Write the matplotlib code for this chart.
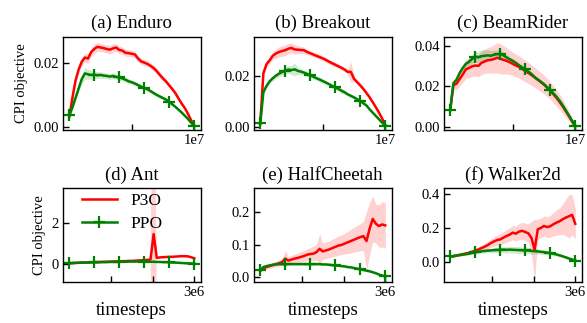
import numpy as np
import matplotlib
matplotlib.use("Agg")
import matplotlib.pyplot as plt

plt.rcParams['font.family'] = ['Liberation Serif', 'DejaVu Serif']
plt.rcParams['mathtext.fontset'] = 'stix'

titles = ["(a) Enduro", "(b) Breakout", "(c) BeamRider",
          "(d) Ant", "(e) HalfCheetah", "(f) Walker2d"]

# 41 evaluation points per run (Atari: 0..1e7, MuJoCo: 0..3e6)
atari_steps = np.linspace(0, 1e7, 41)
mujoco_steps = np.linspace(0, 3e6, 41)

# ---- Enduro
enduro_p3o = [0.0030, 0.0090, 0.0145, 0.0180, 0.0205, 0.0218, 0.0215, 0.0235, 0.0245, 0.0252,
              0.0250, 0.0248, 0.0245, 0.0243, 0.0247, 0.0250, 0.0242, 0.0240, 0.0233, 0.0232,
              0.0230, 0.0228, 0.0215, 0.0206, 0.0202, 0.0198, 0.0192, 0.0185, 0.0175, 0.0163,
              0.0152, 0.0142, 0.0130, 0.0118, 0.0105, 0.0088, 0.0072, 0.0058, 0.0040, 0.0020, 0.0002]
enduro_p3o_std = [0.0005, 0.0008, 0.0010, 0.0012, 0.0013, 0.0014, 0.0015, 0.0015, 0.0015, 0.0014,
                  0.0013, 0.0012, 0.0013, 0.0014, 0.0013, 0.0012, 0.0012, 0.0011, 0.0011, 0.0011,
                  0.0010, 0.0010, 0.0010, 0.0010, 0.0010, 0.0009, 0.0009, 0.0009, 0.0009, 0.0008,
                  0.0008, 0.0008, 0.0007, 0.0007, 0.0007, 0.0006, 0.0006, 0.0005, 0.0004, 0.0003, 0.0002]
enduro_ppo = [0.0035, 0.0060, 0.0090, 0.0120, 0.0150, 0.0168, 0.0165, 0.0163, 0.0164, 0.0162,
              0.0163, 0.0161, 0.0160, 0.0158, 0.0160, 0.0157, 0.0155, 0.0152, 0.0148, 0.0143,
              0.0140, 0.0136, 0.0131, 0.0126, 0.0122, 0.0118, 0.0112, 0.0106, 0.0100, 0.0095,
              0.0090, 0.0085, 0.0078, 0.0070, 0.0062, 0.0053, 0.0044, 0.0034, 0.0024, 0.0012, 0.0002]
enduro_ppo_std = [0.0004, 0.0006, 0.0008, 0.0010, 0.0014, 0.0018, 0.0016, 0.0014, 0.0012, 0.0011,
                  0.0010, 0.0010, 0.0009, 0.0009, 0.0009, 0.0008, 0.0008, 0.0008, 0.0008, 0.0008,
                  0.0007, 0.0007, 0.0007, 0.0007, 0.0007, 0.0006, 0.0006, 0.0006, 0.0006, 0.0006,
                  0.0005, 0.0005, 0.0005, 0.0005, 0.0004, 0.0004, 0.0004, 0.0003, 0.0003, 0.0002, 0.0002]

# ---- Breakout
breakout_p3o = [0.0010, 0.0210, 0.0245, 0.0260, 0.0278, 0.0287, 0.0293, 0.0297, 0.0300, 0.0306,
                0.0309, 0.0303, 0.0302, 0.0301, 0.0300, 0.0293, 0.0288, 0.0283, 0.0278, 0.0273,
                0.0268, 0.0262, 0.0255, 0.0249, 0.0243, 0.0237, 0.0231, 0.0224, 0.0215, 0.0215,
                0.0188, 0.0175, 0.0162, 0.0148, 0.0132, 0.0115, 0.0096, 0.0076, 0.0055, 0.0032, 0.0008]
breakout_p3o_std = [0.0005, 0.0012, 0.0013, 0.0014, 0.0015, 0.0018, 0.0020, 0.0020, 0.0022, 0.0020,
                    0.0020, 0.0018, 0.0016, 0.0014, 0.0012, 0.0011, 0.0010, 0.0010, 0.0010, 0.0010,
                    0.0009, 0.0009, 0.0009, 0.0009, 0.0009, 0.0009, 0.0008, 0.0008, 0.0010, 0.0040,
                    0.0010, 0.0008, 0.0008, 0.0008, 0.0007, 0.0007, 0.0006, 0.0006, 0.0005, 0.0004, 0.0003]
breakout_ppo = [0.0013, 0.0135, 0.0160, 0.0178, 0.0190, 0.0200, 0.0208, 0.0214, 0.0220, 0.0224,
                0.0222, 0.0225, 0.0219, 0.0216, 0.0212, 0.0207, 0.0202, 0.0196, 0.0190, 0.0185,
                0.0179, 0.0173, 0.0167, 0.0160, 0.0154, 0.0148, 0.0141, 0.0135, 0.0127, 0.0121,
                0.0115, 0.0108, 0.0101, 0.0092, 0.0083, 0.0068, 0.0055, 0.0042, 0.0029, 0.0016, 0.0004]
breakout_ppo_std = [0.0005, 0.0008, 0.0009, 0.0010, 0.0010, 0.0011, 0.0012, 0.0012, 0.0013, 0.0015,
                    0.0018, 0.0025, 0.0014, 0.0012, 0.0011, 0.0010, 0.0010, 0.0009, 0.0009, 0.0009,
                    0.0008, 0.0008, 0.0008, 0.0008, 0.0008, 0.0008, 0.0012, 0.0007, 0.0007, 0.0007,
                    0.0007, 0.0006, 0.0006, 0.0006, 0.0006, 0.0005, 0.0005, 0.0004, 0.0004, 0.0003, 0.0003]

# ---- BeamRider
beamrider_p3o = [0.0085, 0.0205, 0.0212, 0.0235, 0.0258, 0.0283, 0.0290, 0.0298, 0.0302, 0.0300,
                 0.0315, 0.0322, 0.0328, 0.0330, 0.0334, 0.0340, 0.0335, 0.0330, 0.0325, 0.0318,
                 0.0310, 0.0302, 0.0295, 0.0285, 0.0275, 0.0265, 0.0255, 0.0243, 0.0232, 0.0220,
                 0.0208, 0.0193, 0.0178, 0.0160, 0.0142, 0.0122, 0.0100, 0.0076, 0.0052, 0.0027, 0.0003]
beamrider_p3o_std = [0.0010, 0.0025, 0.0030, 0.0035, 0.0040, 0.0045, 0.0048, 0.0050, 0.0052, 0.0055,
                     0.0058, 0.0060, 0.0062, 0.0065, 0.0070, 0.0075, 0.0075, 0.0070, 0.0065, 0.0060,
                     0.0058, 0.0056, 0.0055, 0.0054, 0.0053, 0.0052, 0.0050, 0.0050, 0.0048, 0.0047,
                     0.0046, 0.0045, 0.0043, 0.0042, 0.0040, 0.0038, 0.0035, 0.0030, 0.0025, 0.0020, 0.0010]
beamrider_ppo = [0.0082, 0.0215, 0.0232, 0.0265, 0.0290, 0.0310, 0.0320, 0.0335, 0.0345, 0.0343,
                 0.0348, 0.0350, 0.0352, 0.0350, 0.0355, 0.0358, 0.0360, 0.0352, 0.0342, 0.0333,
                 0.0325, 0.0315, 0.0303, 0.0293, 0.0283, 0.0272, 0.0260, 0.0245, 0.0233, 0.0222,
                 0.0210, 0.0195, 0.0180, 0.0165, 0.0148, 0.0128, 0.0105, 0.0080, 0.0055, 0.0028, 0.0003]
beamrider_ppo_std = [0.0005, 0.0010, 0.0012, 0.0014, 0.0016, 0.0018, 0.0020, 0.0022, 0.0025, 0.0028,
                     0.0030, 0.0030, 0.0028, 0.0025, 0.0022, 0.0020, 0.0018, 0.0016, 0.0014, 0.0012,
                     0.0011, 0.0010, 0.0010, 0.0010, 0.0009, 0.0009, 0.0009, 0.0008, 0.0008, 0.0008,
                     0.0008, 0.0007, 0.0007, 0.0007, 0.0006, 0.0006, 0.0005, 0.0005, 0.0004, 0.0003, 0.0002]

# ---- Ant
ant_p3o = [0.03, 0.04, 0.05, 0.06, 0.07, 0.07, 0.08, 0.09, 0.09, 0.10,
           0.10, 0.11, 0.11, 0.12, 0.12, 0.13, 0.13, 0.14, 0.14, 0.15,
           0.15, 0.16, 0.17, 0.18, 0.19, 0.20, 0.22, 1.45, 0.30, 0.32,
           0.33, 0.34, 0.35, 0.35, 0.36, 0.37, 0.38, 0.38, 0.37, 0.33, 0.28]
ant_p3o_std = [0.01, 0.01, 0.01, 0.01, 0.01, 0.01, 0.01, 0.01, 0.02, 0.02,
               0.02, 0.02, 0.02, 0.02, 0.02, 0.02, 0.02, 0.02, 0.02, 0.02,
               0.02, 0.02, 0.02, 0.02, 0.03, 0.03, 0.03, 9.00, 0.03, 0.03,
               0.03, 0.03, 0.03, 0.03, 0.03, 0.03, 0.03, 0.03, 0.03, 0.03, 0.03]
ant_ppo = [0.05, 0.05, 0.06, 0.06, 0.07, 0.07, 0.07, 0.08, 0.08, 0.08,
           0.09, 0.09, 0.09, 0.10, 0.10, 0.10, 0.11, 0.11, 0.11, 0.12,
           0.12, 0.12, 0.12, 0.12, 0.12, 0.11, 0.11, 0.11, 0.10, 0.10,
           0.09, 0.09, 0.08, 0.07, 0.07, 0.06, 0.05, 0.04, 0.03, 0.03, 0.02]
ant_ppo_std = [0.01] * 41

# ---- HalfCheetah
halfcheetah_p3o = [0.020, 0.028, 0.032, 0.035, 0.038, 0.041, 0.044, 0.047, 0.058, 0.052,
                   0.055, 0.058, 0.060, 0.063, 0.066, 0.070, 0.072, 0.073, 0.078, 0.088,
                   0.080, 0.083, 0.086, 0.090, 0.094, 0.098, 0.100, 0.104, 0.108, 0.112,
                   0.116, 0.120, 0.124, 0.127, 0.112, 0.150, 0.180, 0.165, 0.158, 0.163, 0.160]
halfcheetah_p3o_std = [0.004, 0.005, 0.006, 0.007, 0.008, 0.008, 0.009, 0.010, 0.025, 0.012,
                       0.013, 0.014, 0.015, 0.016, 0.017, 0.018, 0.020, 0.022, 0.025, 0.045,
                       0.025, 0.025, 0.026, 0.027, 0.028, 0.030, 0.030, 0.032, 0.034, 0.036,
                       0.038, 0.040, 0.042, 0.045, 0.090, 0.080, 0.070, 0.060, 0.065, 0.070, 0.070]
halfcheetah_ppo = [0.022, 0.032, 0.035, 0.037, 0.039, 0.040, 0.041, 0.041, 0.041, 0.041,
                   0.041, 0.041, 0.041, 0.041, 0.041, 0.041, 0.041, 0.041, 0.041, 0.041,
                   0.040, 0.040, 0.039, 0.038, 0.037, 0.036, 0.035, 0.034, 0.032, 0.031,
                   0.029, 0.027, 0.025, 0.023, 0.021, 0.019, 0.016, 0.013, 0.009, 0.006, 0.003]
halfcheetah_ppo_std = [0.003] * 41

# ---- Walker2d
walker_p3o = [0.030, 0.032, 0.036, 0.040, 0.044, 0.048, 0.052, 0.058, 0.064, 0.072,
              0.080, 0.088, 0.098, 0.110, 0.120, 0.128, 0.132, 0.142, 0.152, 0.160,
              0.172, 0.166, 0.178, 0.183, 0.176, 0.168, 0.140, 0.070, 0.192, 0.200,
              0.212, 0.205, 0.210, 0.222, 0.232, 0.240, 0.252, 0.262, 0.270, 0.278, 0.225]
walker_p3o_std = [0.005, 0.006, 0.007, 0.008, 0.009, 0.010, 0.011, 0.012, 0.014, 0.016,
                  0.018, 0.020, 0.022, 0.025, 0.028, 0.030, 0.032, 0.035, 0.038, 0.040,
                  0.042, 0.045, 0.048, 0.050, 0.052, 0.055, 0.100, 0.180, 0.060, 0.058,
                  0.060, 0.062, 0.065, 0.070, 0.075, 0.080, 0.090, 0.110, 0.130, 0.120, 0.090]
walker_ppo = [0.030, 0.032, 0.035, 0.038, 0.041, 0.044, 0.047, 0.051, 0.055, 0.058,
              0.061, 0.063, 0.065, 0.066, 0.068, 0.069, 0.070, 0.071, 0.070, 0.071,
              0.070, 0.069, 0.068, 0.067, 0.066, 0.065, 0.063, 0.062, 0.060, 0.058,
              0.056, 0.053, 0.050, 0.046, 0.042, 0.037, 0.031, 0.025, 0.018, 0.012, 0.006]
walker_ppo_std = [0.004, 0.004, 0.005, 0.005, 0.006, 0.006, 0.007, 0.008, 0.009, 0.010,
                  0.011, 0.012, 0.013, 0.014, 0.015, 0.016, 0.017, 0.018, 0.019, 0.020,
                  0.020, 0.020, 0.020, 0.020, 0.020, 0.019, 0.018, 0.017, 0.016, 0.015,
                  0.014, 0.013, 0.012, 0.011, 0.010, 0.010, 0.009, 0.009, 0.008, 0.008, 0.008]

panels = [
    (atari_steps, enduro_p3o, enduro_p3o_std, enduro_ppo, enduro_ppo_std),
    (atari_steps, breakout_p3o, breakout_p3o_std, breakout_ppo, breakout_ppo_std),
    (atari_steps, beamrider_p3o, beamrider_p3o_std, beamrider_ppo, beamrider_ppo_std),
    (mujoco_steps, ant_p3o, ant_p3o_std, ant_ppo, ant_ppo_std),
    (mujoco_steps, halfcheetah_p3o, halfcheetah_p3o_std, halfcheetah_ppo, halfcheetah_ppo_std),
    (mujoco_steps, walker_p3o, walker_p3o_std, walker_ppo, walker_ppo_std),
]

yticks = [[0, 0.02], [0, 0.02], [0, 0.02, 0.04], [0, 2], [0, 0.1, 0.2], [0, 0.2, 0.4]]
yticklabels = [["0.00", "0.02"], ["0.00", "0.02"], ["0.00", "0.02", "0.04"],
               ["0", "2"], ["0.0", "0.1", "0.2"], ["0.0", "0.2", "0.4"]]
ylims = [(-0.0011, 0.0284), (-0.0013, 0.0353), (-0.0016, 0.0444),
         (-0.87, 3.68), (-0.014, 0.275), (-0.122, 0.438)]

W, H = 587, 323
fig = plt.figure(figsize=(W / 100, H / 100), dpi=100)
lefts = [63, 254, 444]
rows = [(36.7, 93.3), (188, 94)]
ax_w = 137.5

for i, (steps, p3o, p3o_std, ppo, ppo_std) in enumerate(panels):
    r, c = divmod(i, 3)
    top, h = rows[r]
    ax = fig.add_axes([lefts[c] / W, (H - top - h) / H, ax_w / W, h / H])

    p3o = np.array(p3o)
    ppo = np.array(ppo)
    p3o_std = np.array(p3o_std)
    ppo_std = np.array(ppo_std)

    ax.fill_between(steps, p3o - p3o_std, p3o + p3o_std, color='red', alpha=0.18, lw=0)
    ax.fill_between(steps, ppo - ppo_std, ppo + ppo_std, color='green', alpha=0.18, lw=0)
    ax.plot(steps, p3o, color='red', lw=1.8, label='P3O')
    ax.plot(steps, ppo, color='green', lw=1.8, marker='+', ms=8, mew=1.6,
            markevery=8, label='PPO')

    ax.set_title(titles[i], fontsize=13.5)
    if r == 0:
        ax.set_xlim(-0.05e7, 1.05e7)
        ax.set_xticks([0.5e7, 1e7])
        ax.set_xticklabels(['', '1e7'])
    else:
        ax.set_xlim(-0.15e6, 3.15e6)
        ax.set_xticks([1e6, 2e6, 3e6])
        ax.set_xticklabels(['', '', '3e6'])
        ax.set_xlabel('timesteps', fontsize=13.5, labelpad=2)
    ax.set_yticks(yticks[i])
    ax.set_yticklabels(yticklabels[i])
    ax.set_ylim(*ylims[i])
    ax.tick_params(direction='in', length=4, width=1, labelsize=10.5, pad=3)
    for sp in ax.spines.values():
        sp.set_linewidth(1)
    if c == 0:
        ax.set_ylabel('CPI objective', fontsize=10.5, labelpad=4)
    if i == 3:
        ax.legend(loc='upper left', bbox_to_anchor=(0.05, 1.08), frameon=False,
                  fontsize=12.5, handlelength=2.0, borderaxespad=0.3, labelspacing=0.4)

fig.savefig('out.png', dpi=100)
